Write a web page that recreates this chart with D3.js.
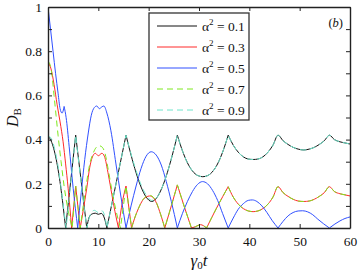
<!DOCTYPE html>
<html>
<head>
<meta charset="utf-8">
<script src="https://cdn.jsdelivr.net/npm/d3@7"></script>
<style>
  body { margin: 0; background: #fff; }
  svg text { font-family: "Liberation Serif", "DejaVu Serif", serif; fill: #111; }
</style>
</head>
<body>
<div id="chart"></div>
<script>
// values
const xTicks = [0, 10, 20, 30, 40, 50, 60];
const yTicks = [0, 0.1, 0.2, 0.3, 0.4, 0.5, 0.6, 0.7, 0.8, 0.9, 1];
const yLabelTicks = [0, 0.2, 0.4, 0.6, 0.8, 1];
const seriesNames = ['0.1', '0.3', '0.5', '0.7', '0.9'];

// alpha^2 = 0.1
const tA1 = [0, 0.5, 1, 1.5, 2, 2.5, 3, 3.5, 4.5, 5.5, 6.6, 7.7, 8.2, 8.8, 9.4, 10, 10.6, 11.2, 11.7, 13.6,
  15.5, 16.5, 17.5, 18.5, 19.5, 20.6, 21.7, 22.7, 23.7, 24.7,
  25.7, 26.7, 27.7, 28.7, 29.7, 30.75, 31.8, 32.8, 33.8, 34.8,
  35.8, 36.8, 37.8, 38.8, 39.8, 40.75, 41.7, 42.7, 43.7, 44.7,
  45.7, 46.7, 47.7, 48.7, 49.7, 50.8, 51.9, 52.9, 53.9, 54.9, 55.9, 56.9, 58, 59, 60];
const dA1 = [0.415, 0.4, 0.37, 0.325, 0.265, 0.19, 0.1, 0, 0.21, 0.42, 0.21, 0, 0.05, 0.064, 0.067, 0.062, 0.066, 0.045, 0, 0.21,
  0.42, 0.33, 0.25, 0.185, 0.14, 0.12, 0.14, 0.185, 0.25, 0.33,
  0.42, 0.35, 0.295, 0.258, 0.238, 0.232, 0.238, 0.258, 0.295, 0.35,
  0.42, 0.375, 0.343, 0.322, 0.312, 0.31, 0.312, 0.322, 0.343, 0.375,
  0.42, 0.395, 0.378, 0.365, 0.357, 0.353, 0.357, 0.365, 0.378, 0.395, 0.42, 0.4, 0.39, 0.385, 0.38];

// alpha^2 = 0.3
const tA3 = [0, 0.6, 1.2, 1.8, 2.4, 3, 3.5, 4, 4.7, 5.5, 6.4, 7, 7.7, 8.3, 9, 9.4, 10, 10.7, 11.2, 12, 12.7, 13.3, 14,
  14.8, 15.5, 16.6, 17.3, 18, 18.8, 19.5, 20.2, 20.9, 21.6, 22.4, 23.2, 24.5, 25.7, 27.1, 28.5, 29.3, 30.3, 31.5, 33.6,
  35.8, 36.8, 37.8, 38.8, 39.8, 40.75, 41.7, 42.7, 43.7, 44.7,
  45.7, 46.7, 47.7, 48.7, 49.7, 50.8, 51.9, 52.9, 53.9, 54.9, 55.9, 56.9, 58, 59, 60];
const dA3 = [0.75, 0.72, 0.65, 0.56, 0.48, 0.39, 0.29, 0.18, 0, 0.19, 0, 0.08, 0.18, 0.275, 0.33, 0.338, 0.327, 0.338, 0.325, 0.24, 0.15, 0.075, 0,
  0.12, 0.19, 0, 0.05, 0.09, 0.125, 0.14, 0.145, 0.138, 0.11, 0.06, 0, 0.1, 0.195, 0.095, 0, 0.006, 0.015, 0, 0.095,
  0.187, 0.14, 0.108, 0.088, 0.077, 0.074, 0.077, 0.088, 0.108, 0.14,
  0.187, 0.16, 0.143, 0.13, 0.122, 0.12, 0.122, 0.13, 0.143, 0.16, 0.187, 0.165, 0.155, 0.15, 0.145];

// alpha^2 = 0.5
const tA5 = [0, 0.5, 1, 1.5, 2, 2.4, 2.8, 3.2, 3.6, 4.2, 5, 5.9, 6.6, 7.3, 8, 8.6, 9.2, 9.7, 10.2, 10.7, 11.1, 11.7, 12.5, 13.5, 14.5,
  15.5, 16.5, 17.5, 18.5, 19.5, 20.5, 21.5, 22.5, 23.5, 24.5,
  25.7, 26.7, 27.7, 28.7, 29.7, 30.7, 31.7, 32.7, 33.7, 34.7,
  35.8, 36.8, 37.8, 38.8, 39.8, 40.6, 41.5, 42.5, 43.5, 44.5,
  45.7, 46.7, 47.7, 48.7, 49.7, 50.6, 51.6, 52.6, 53.6, 54.7, 55.9, 57, 58, 59, 60];
const dA5 = [1, 0.9, 0.8, 0.7, 0.61, 0.54, 0.52, 0.55, 0.5, 0.37, 0.18, 0, 0.16, 0.31, 0.43, 0.51, 0.545, 0.552, 0.54, 0.548, 0.552, 0.52, 0.44, 0.29, 0.14,
  0, 0.1, 0.19, 0.27, 0.325, 0.345, 0.33, 0.285, 0.21, 0.12,
  0, 0.065, 0.12, 0.165, 0.197, 0.21, 0.2, 0.17, 0.125, 0.065,
  0, 0.045, 0.085, 0.11, 0.125, 0.127, 0.12, 0.1, 0.07, 0.035,
  0, 0.03, 0.055, 0.07, 0.077, 0.078, 0.073, 0.06, 0.04, 0.02, 0, 0.018, 0.032, 0.043, 0.05];

// alpha^2 = 0.7
const tA7 = [0, 0.4, 0.8, 1.2, 1.6, 2, 2.6, 3.2, 4, 4.8, 5.5, 6.4, 7, 7.7, 8.3, 9, 9.6, 10.2, 10.8, 11.3, 12, 12.7, 13.5, 14.4,
  15.5, 16.6, 17.3, 18, 18.8, 19.5, 20.2, 20.9, 21.6, 22.4, 23.2, 24.5, 25.7, 27.1, 28.5, 29.3, 30.3, 31.5, 33.6,
  35.8, 36.8, 37.8, 38.8, 39.8, 40.75, 41.7, 42.7, 43.7, 44.7,
  45.7, 46.7, 47.7, 48.7, 49.7, 50.8, 51.9, 52.9, 53.9, 54.9, 55.9, 56.9, 58, 59, 60];
const dA7 = [0.753, 0.74, 0.69, 0.6, 0.51, 0.42, 0.3, 0.19, 0.08, 0, 0.19, 0, 0.1, 0.21, 0.29, 0.34, 0.365, 0.372, 0.365, 0.34, 0.26, 0.17, 0.08, 0,
  0.19, 0, 0.05, 0.09, 0.127, 0.143, 0.148, 0.14, 0.112, 0.06, 0, 0.1, 0.195, 0.095, 0, 0.006, 0.015, 0, 0.095,
  0.187, 0.14, 0.108, 0.088, 0.077, 0.074, 0.077, 0.088, 0.108, 0.14,
  0.187, 0.16, 0.143, 0.13, 0.122, 0.12, 0.122, 0.13, 0.143, 0.16, 0.187, 0.165, 0.155, 0.15, 0.145];

// alpha^2 = 0.9
const tA9 = [0, 0.5, 1, 1.5, 2, 2.5, 3, 3.6, 4.5, 5.5, 6.6, 7.7, 8.5, 9.2, 10, 10.7, 11.2, 11.7, 13.6,
  15.5, 16.5, 17.5, 18.5, 19.5, 20.6, 21.7, 22.7, 23.7, 24.7,
  25.7, 26.7, 27.7, 28.7, 29.7, 30.75, 31.8, 32.8, 33.8, 34.8,
  35.8, 36.8, 37.8, 38.8, 39.8, 40.75, 41.7, 42.7, 43.7, 44.7,
  45.7, 46.7, 47.7, 48.7, 49.7, 50.8, 51.9, 52.9, 53.9, 54.9, 55.9, 56.9, 58, 59, 60];
const dA9 = [0.415, 0.41, 0.385, 0.34, 0.28, 0.2, 0.11, 0, 0.2, 0.42, 0.2, 0, 0.065, 0.08, 0.07, 0.078, 0.06, 0, 0.21,
  0.42, 0.335, 0.26, 0.195, 0.15, 0.125, 0.14, 0.185, 0.25, 0.33,
  0.42, 0.35, 0.295, 0.258, 0.238, 0.232, 0.238, 0.258, 0.295, 0.35,
  0.42, 0.375, 0.343, 0.322, 0.312, 0.31, 0.312, 0.322, 0.343, 0.375,
  0.42, 0.395, 0.378, 0.365, 0.357, 0.353, 0.357, 0.365, 0.378, 0.395, 0.42, 0.4, 0.39, 0.385, 0.38];

const series = [
  { name: seriesNames[0], t: tA1, d: dA1, color: '#111111', dash: null },
  { name: seriesNames[1], t: tA3, d: dA3, color: '#ff2a2a', dash: null },
  { name: seriesNames[2], t: tA5, d: dA5, color: '#3050ff', dash: null },
  { name: seriesNames[3], t: tA7, d: dA7, color: '#7ee81e', dash: '6,4' },
  { name: seriesNames[4], t: tA9, d: dA9, color: '#6ee6cc', dash: '6,4' }
];

const W = 360, H = 272;
const margin = { top: 7, right: 10, bottom: 44, left: 48 };

const svg = d3.select('#chart').append('svg')
  .attr('width', W)
  .attr('height', H);

const x = d3.scaleLinear().domain([0, 60]).range([margin.left, W - margin.right]);
const y = d3.scaleLinear().domain([0, 1]).range([H - margin.bottom, margin.top]);

// clip for curves
svg.append('clipPath').attr('id', 'clip')
  .append('rect')
  .attr('x', x(0)).attr('y', y(1))
  .attr('width', x(60) - x(0)).attr('height', y(0) - y(1));

// break a series at its sharp corners so the smooth curve keeps them
const toPath = (ts, vs) => {
  const pts = ts.map((t, i) => [t, vs[i]]);
  const segs = [];
  let cur = [pts[0]];
  for (let i = 1; i < pts.length; i++) {
    cur.push(pts[i]);
    if (i < pts.length - 1) {
      const s1 = (pts[i][1] - pts[i - 1][1]) / (pts[i][0] - pts[i - 1][0]);
      const s2 = (pts[i + 1][1] - pts[i][1]) / (pts[i + 1][0] - pts[i][0]);
      if (pts[i][1] === 0 || (s1 > 0.03 && s2 < -0.03)) {
        segs.push(cur);
        cur = [pts[i]];
      }
    }
  }
  segs.push(cur);
  const line = d3.line()
    .x((d) => x(d[0]))
    .y((d) => y(d[1]))
    .curve(d3.curveMonotoneX);
  return segs.map((s, i) => i === 0 ? line(s) : line(s).replace(/^M/, 'L')).join('');
};

const curves = svg.append('g').attr('clip-path', 'url(#clip)');
series.forEach((s) => {
  curves.append('path')
    .attr('d', toPath(s.t, s.d))
    .attr('fill', 'none')
    .attr('stroke', s.color)
    .attr('stroke-width', 1)
    .attr('stroke-dasharray', s.dash);
});

// axes, ticks pointing inward
const axisColor = '#222';
const fmtY = (d) => yLabelTicks.some((v) => Math.abs(v - d) < 1e-9) ? d3.format('~g')(d) : '';

svg.append('g')
  .attr('transform', 'translate(0,' + y(0) + ')')
  .call(d3.axisBottom(x).tickValues(xTicks).tickSizeInner(-4).tickSizeOuter(0).tickPadding(8));
svg.append('g')
  .attr('transform', 'translate(0,' + y(1) + ')')
  .call(d3.axisTop(x).tickValues(xTicks).tickSizeInner(-4).tickSizeOuter(0).tickFormat(''));
svg.append('g')
  .attr('transform', 'translate(' + x(0) + ',0)')
  .call(d3.axisLeft(y).tickValues(yTicks).tickSizeInner(-4).tickSizeOuter(0).tickPadding(6).tickFormat(fmtY));
svg.append('g')
  .attr('transform', 'translate(' + x(60) + ',0)')
  .call(d3.axisRight(y).tickValues(yTicks).tickSizeInner(-4).tickSizeOuter(0).tickFormat(''));

svg.selectAll('.domain').attr('stroke', axisColor).attr('stroke-width', 1.4);
svg.selectAll('.tick line').attr('stroke', axisColor).attr('stroke-width', 1);
svg.selectAll('.tick text')
  .attr('font-family', '"Liberation Serif", serif')
  .attr('font-size', 13.5)
  .attr('fill', '#111');

// y label D_B
const yl = svg.append('text')
  .attr('transform', 'translate(18,' + ((y(0) + y(1)) / 2) + ') rotate(-90)')
  .attr('text-anchor', 'middle')
  .attr('font-size', 16);
yl.append('tspan').attr('font-style', 'italic').text('D');
yl.append('tspan').attr('font-size', 11).attr('dy', 3).text('B');

// x label gamma_0 t
const xl = svg.append('text')
  .attr('x', (x(0) + x(60)) / 2)
  .attr('y', 266)
  .attr('text-anchor', 'middle')
  .attr('font-size', 17);
xl.append('tspan').attr('font-style', 'italic').text('γ');
xl.append('tspan').attr('font-size', 11).attr('dy', 3).text('0');
xl.append('tspan').attr('font-style', 'italic').attr('dy', -3).text('t');

// panel mark
const pm = svg.append('text')
  .attr('x', 343)
  .attr('y', 27)
  .attr('text-anchor', 'end')
  .attr('font-size', 12.5);
pm.append('tspan').text('(');
pm.append('tspan').attr('font-style', 'italic').text('b');
pm.append('tspan').text(')');

// legend
const lg = svg.append('g');
lg.append('rect')
  .attr('x', 149).attr('y', 13)
  .attr('width', 100).attr('height', 107)
  .attr('fill', '#fff')
  .attr('stroke', '#333')
  .attr('stroke-width', 1.3);
series.forEach((s, i) => {
  const ry = 26 + i * 21;
  lg.append('line')
    .attr('x1', 157).attr('x2', 197)
    .attr('y1', ry).attr('y2', ry)
    .attr('stroke', s.color)
    .attr('stroke-width', 1)
    .attr('stroke-dasharray', s.dash);
  const t = lg.append('text')
    .attr('x', 202)
    .attr('y', ry + 5)
    .attr('font-size', 13.5);
  t.append('tspan').text('α');
  t.append('tspan').attr('font-size', 9).attr('dy', -6).text('2');
  t.append('tspan').attr('dy', 6).text(' = ' + s.name);
});
</script>
</body>
</html>
